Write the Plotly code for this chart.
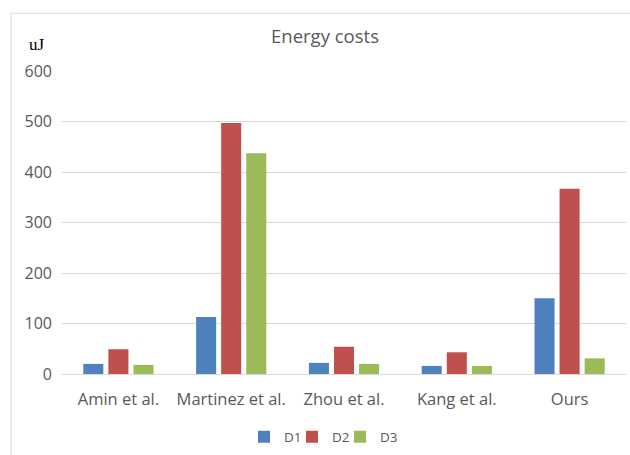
import plotly.graph_objects as go

categories = ["Amin et al.", "Martinez et al.", "Zhou et al.", "Kang et al.", "Ours"]
d1 = [20, 113, 22, 16, 150]
d2 = [49, 497, 54, 43, 367]
d3 = [18, 437, 20, 16, 31]
series_names = ["D1", "D2", "D3"]
colors = ["#4F81BD", "#C0504D", "#9BBB59"]
y_ticks = [0, 100, 200, 300, 400, 500, 600]

W, H = 630, 455
ml, mr, mt, mb = 62, 4, 71, 80
PW, PH = W - ml - mr, H - mt - mb
FONT = "Open Sans, sans-serif"

fig = go.Figure()
legend_ids = ["legend", "legend2", "legend3"]
for name, vals, col, lg in zip(series_names, [d1, d2, d3], colors, legend_ids):
    fig.add_trace(go.Bar(x=categories, y=vals, name=name, marker_color=col,
                         marker_line_width=0, legend=lg))

# one single-item legend per series, placed side by side
legend_left_px = [244, 292, 340]
legend_cfg = {}
for lg, lx in zip(legend_ids, legend_left_px):
    legend_cfg[lg] = dict(orientation="h", x=(lx - ml) / PW, xanchor="left",
                          y=-(437 - 375) / PH, yanchor="middle",
                          font=dict(family=FONT, size=13.5, color="#595959"),
                          itemwidth=30, bgcolor="rgba(0,0,0,0)")

fig.update_layout(
    width=W, height=H,
    margin=dict(l=ml, r=mr, t=mt, b=mb),
    paper_bgcolor="white", plot_bgcolor="white",
    barmode="group", bargap=0.333, bargroupgap=0.2,
    font=dict(family=FONT, size=15, color="#595959"),
    title=dict(text="Energy costs", x=325 / W, xanchor="center",
               y=1 - 37 / H, yanchor="middle",
               font=dict(family=FONT, size=18.5, color="#595959")),
    xaxis=dict(showgrid=False, showline=False, ticks="",
               tickfont=dict(family=FONT, size=16.5), ticklabelstandoff=13),
    yaxis=dict(range=[0, 600], tickvals=y_ticks, showgrid=True,
               gridcolor="#D9D9D9", gridwidth=1, zeroline=True,
               zerolinecolor="#D9D9D9", zerolinewidth=1, showline=False,
               ticks="", tickfont=dict(family=FONT, size=16), ticklabelstandoff=9),
    showlegend=True,
    **legend_cfg,
)

fig.add_annotation(text="uJ", xref="paper", yref="paper",
                   x=-(ml - 37) / PW, y=1 + (mt - 44) / PH,
                   xanchor="center", yanchor="middle", showarrow=False,
                   font=dict(family="Liberation Serif, serif", size=17, color="#000000"))

# chart border
fig.add_shape(type="rect", xref="paper", yref="paper",
              x0=-(ml - 11) / PW, x1=1 + (mr + 10) / PW,
              y0=-(mb + 10) / PH, y1=1 + (mt - 13) / PH,
              line=dict(color="#D9D9D9", width=1), fillcolor="rgba(0,0,0,0)",
              layer="below")

fig.write_html("out.html")
